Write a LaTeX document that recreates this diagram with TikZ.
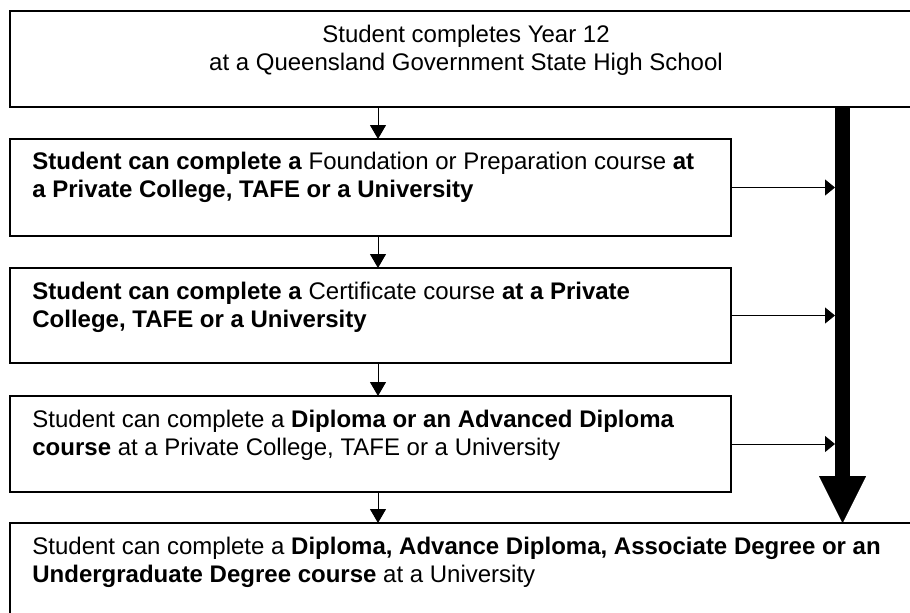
\documentclass[tikz,border=0pt]{standalone}
\usepackage{fontspec}
\setmainfont{Liberation Sans}
\usetikzlibrary{positioning,calc,arrows.meta}
\tikzset{
  box/.style={draw, line width=0.8pt, inner sep=0pt, outer sep=0pt, anchor=north west, minimum width=360.5pt},
  boxtext/.style={inner sep=0pt, anchor=base west, align=left, font=\fontsize{12}{13.8}\selectfont},
  flow/.style={line width=0.5pt, -{Triangle[length=7pt,width=8pt]}},
  side/.style={line width=0.5pt, -{Triangle[length=5pt,width=8pt]}},
  spine/.style={line width=7.5pt, -{Triangle[length=23.5pt,width=23.5pt,line width=0.01pt]}}
}

\begin{document}
\begin{tikzpicture}[x=0.5pt,y=-0.5pt]
    \useasboundingbox (0,0) rectangle (910,612);
    \clip (0,0) rectangle (910,612);
    % boxes
    \node [box, minimum width=456pt, minimum height=48pt] (top) at (10,11) {};
    \node [box, minimum height=48.5pt] (found) at (10,139) {};
    \node [box, minimum height=47.5pt] (cert) at (10,268) {};
    \node [box, minimum height=48pt] (dipl) at (10,396) {};
    \node [box, minimum width=456pt, minimum height=60pt] (degree) at (10,523) {};
    % texts (base = baseline of the last line)
    \node [boxtext, anchor=base, align=center] (toptext) at ($(top.north)+(0,59)$)
        {Student completes Year 12\\at a Queensland Government State High School};
    \node [boxtext] (foundtext) at ($(found.north west)+(22,58)$)
        {\textbf{Student can complete a} Foundation or Preparation course \textbf{at}\\\textbf{a Private College, TAFE or a University}};
    \node [boxtext] (certtext) at ($(cert.north west)+(22,59)$)
        {\textbf{Student can complete a} Certificate course \textbf{at a Private}\\\textbf{College, TAFE or a University}};
    \node [boxtext] (dipltext) at ($(dipl.north west)+(22,59)$)
        {Student can complete a \textbf{Diploma or an Advanced Diploma}\\\textbf{course} at a Private College, TAFE or a University};
    \node [boxtext] (degreetext) at ($(degree.north west)+(22,59)$)
        {Student can complete a \textbf{Diploma, Advance Diploma, Associate Degree or an}\\\textbf{Undergraduate Degree course} at a University};
    % down arrows
    \coordinate (axis) at (378,0);
    \draw [flow] (top.south -| axis) -- (found.north -| axis);
    \draw [flow] (found.south -| axis) -- (cert.north -| axis);
    \draw [flow] (cert.south -| axis) -- (dipl.north -| axis);
    \draw [flow] (dipl.south -| axis) -- (degree.north -| axis);
    % thick arrow on the right
    \coordinate (bar) at (842.5,0);
    \coordinate (barleft) at (835,0);
    \draw [spine] (top.south -| bar) -- (degree.north -| bar);
    \draw [side] (found.east) -- (found.east -| barleft);
    \draw [side] (cert.east) -- (cert.east -| barleft);
    \draw [side] (dipl.east) -- (dipl.east -| barleft);
\end{tikzpicture}
\end{document}
